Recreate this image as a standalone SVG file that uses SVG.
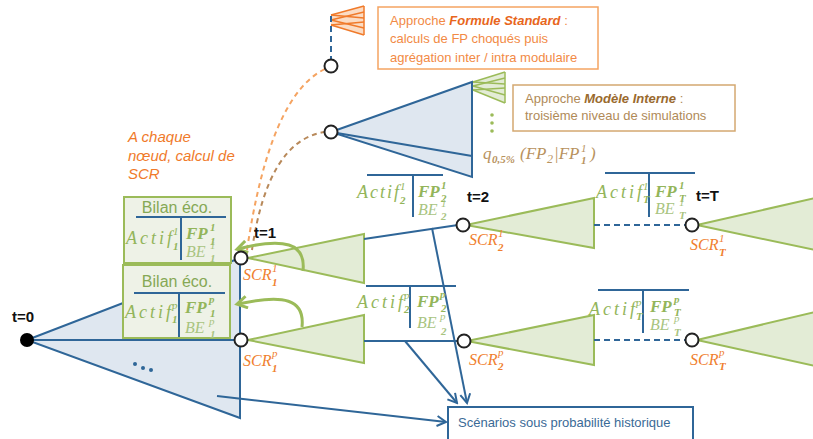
<svg xmlns="http://www.w3.org/2000/svg" width="813" height="439" viewBox="0 0 813 439">
<style>
.ln{stroke:#2f6698;stroke-width:2;fill:none}
.dash{stroke:#2f6698;stroke-width:2;fill:none;stroke-dasharray:6 4}
.tri{fill:#e3ecd6;stroke:#9bbb59;stroke-width:2}
.btri{fill:#dfe7f0;stroke:#2f6698;stroke-width:2}
.nd{fill:#fff;stroke:#222;stroke-width:2}
.box{fill:#eef2e7;stroke:#9bbb59;stroke-width:2}
.m{font-family:"Liberation Serif","DejaVu Serif",serif;font-style:italic;fill:#93b55a}
.b{font-weight:bold}
.be{fill:#a9c47f}
.s{font-size:11px}
.scr{fill:#f07f2f}
.q{fill:#b8925e}
.t{font-family:"Liberation Sans",Arial,sans-serif;font-weight:bold;font-size:15px;fill:#111}
.sans{font-family:"Liberation Sans",Arial,sans-serif}
.garr{stroke:#9bbb59;stroke-width:3;fill:none}
</style>
<defs>
<marker id="ah" markerWidth="12" markerHeight="12" refX="10" refY="6" orient="auto" markerUnits="userSpaceOnUse">
<path d="M1,1 L10,6 L1,11" fill="none" stroke="#2f6698" stroke-width="2"/>
</marker>
<marker id="gh" markerWidth="14" markerHeight="14" refX="10" refY="7" orient="auto" markerUnits="userSpaceOnUse">
<path d="M1,1 L11,7 L1,13" fill="none" stroke="#9bbb59" stroke-width="3"/>
</marker>
</defs>

<!-- big tree at t=0 -->
<g id="tree0">
<polygon class="btri" points="27,340 240,258 240,418"/>
<line class="ln" x1="27" y1="340" x2="240" y2="340"/>
<circle cx="135" cy="364" r="2" fill="#2f6698"/>
<circle cx="143" cy="368" r="2" fill="#2f6698"/>
<circle cx="151" cy="370" r="2" fill="#2f6698"/>
</g>

<!-- upper blue fan (internal model) -->
<g id="fanMI">
<polygon class="btri" points="331,132 472,82 472,177"/>
<line class="ln" x1="331" y1="132" x2="472" y2="156"/>
<polygon points="473,82 505,72 505,103 473,90" fill="#e3ecd6"/>
<g stroke="#9bbb59" stroke-width="1.5" fill="none">
<line x1="473" y1="82" x2="505" y2="72"/>
<line x1="473" y1="82" x2="505" y2="84"/>
<line x1="473" y1="86" x2="505" y2="78"/>
<line x1="473" y1="86" x2="505" y2="95"/>
<line x1="473" y1="90" x2="505" y2="88"/>
<line x1="473" y1="90" x2="505" y2="103"/>
<line x1="505" y1="72" x2="505" y2="103"/>
</g>
<circle cx="492" cy="115" r="1.8" fill="#9bbb59"/>
<circle cx="492" cy="123" r="1.8" fill="#9bbb59"/>
<circle cx="492" cy="131" r="1.8" fill="#9bbb59"/>
</g>

<!-- orange fan (standard formula) -->
<g id="fanFS">
<polygon points="331,15 364,6 364,35 331,25" fill="#fbdcc4"/>
<g stroke="#f07a2a" stroke-width="1.5" fill="none">
<line x1="331" y1="15" x2="364" y2="6"/>
<line x1="331" y1="15" x2="364" y2="18"/>
<line x1="331" y1="20" x2="364" y2="12"/>
<line x1="331" y1="20" x2="364" y2="28"/>
<line x1="331" y1="25" x2="364" y2="22"/>
<line x1="331" y1="25" x2="364" y2="35"/>
<line x1="364" y1="6" x2="364" y2="35"/>
</g>
</g>

<!-- green triangles -->
<g id="tri11"><polygon class="tri" points="248,258 364,234 364,283"/></g>
<g id="tri1p"><polygon class="tri" points="248,340 364,315 364,363"/></g>
<g id="tri21"><polygon class="tri" points="466,225 594,198 594,248"/></g>
<g id="tri2p"><polygon class="tri" points="467,341 594,315 594,365"/></g>
<g id="triT1"><polygon class="tri" points="697,225 815,198 815,250"/></g>
<g id="triTp"><polygon class="tri" points="697,340 815,312 815,366"/></g>

<!-- connectors -->
<g id="connectors">
<line class="ln" x1="240" y1="258" x2="240" y2="418"/>
<line class="ln" x1="364" y1="239" x2="458" y2="225"/>
<line class="ln" x1="364" y1="341" x2="458" y2="341"/>
<line class="dash" x1="594" y1="225" x2="686" y2="225"/>
<line class="dash" x1="594" y1="340" x2="686" y2="340"/>
<line class="dash" x1="331" y1="16" x2="331" y2="59"/>
<line class="ln" x1="432" y1="228" x2="467" y2="403" marker-end="url(#ah)"/>
<line class="ln" x1="405" y1="341" x2="457" y2="403" marker-end="url(#ah)"/>
<line class="ln" x1="217" y1="396" x2="446" y2="422" marker-end="url(#ah)"/>
<path d="M247,250 Q270,95 325,69" stroke="#f5a462" stroke-width="2" fill="none" stroke-dasharray="5 4"/>
<path d="M252,250 Q268,140 325,132" stroke="#b8895a" stroke-width="2" fill="none" stroke-dasharray="5 4"/>
<path class="garr" d="M303,271 C306,243 284,237 238,249" marker-end="url(#gh)"/>
<path class="garr" d="M302,327 C305,299 284,294 238,304" marker-end="url(#gh)"/>
</g>

<!-- balance sheets at t=1 -->
<g id="bilan11">
<rect class="box" x="124" y="197" width="107" height="66"/>
<text class="sans" x="177" y="213" font-size="16" fill="#86a855" text-anchor="middle">Bilan éco.</text>
<line class="ln" x1="136" y1="217" x2="226" y2="217"/>
<line class="ln" x1="181" y1="217" x2="181" y2="260"/>
<text class="m" x="126" y="244" font-size="18" textLength="46" lengthAdjust="spacing">Actif</text>
<text class="m s" x="173" y="235">1</text>
<text class="m s b" x="173" y="250">1</text>
<text class="m b" x="186" y="239" font-size="17">FP</text>
<text class="m s b" x="210" y="231">1</text>
<text class="m s b" x="210" y="245">1</text>
<text class="m be" x="186" y="257" font-size="16">BE</text>
<text class="m s be" x="210" y="249">1</text>
<text class="m s be b" x="210" y="262">1</text>
</g>
<g id="bilan1p">
<rect class="box" x="123" y="265" width="107" height="73"/>
<text class="sans" x="177" y="287" font-size="16" fill="#86a855" text-anchor="middle">Bilan éco.</text>
<line class="ln" x1="134" y1="293" x2="225" y2="293"/>
<line class="ln" x1="179" y1="293" x2="179" y2="337"/>
<text class="m" x="125" y="318" font-size="18" textLength="46" lengthAdjust="spacing">Actif</text>
<text class="m s" x="172" y="309">p</text>
<text class="m s b" x="172" y="323">1</text>
<text class="m b" x="185" y="313" font-size="17">FP</text>
<text class="m s b" x="209" y="303">p</text>
<text class="m s b" x="210" y="317">1</text>
<text class="m be" x="185" y="333" font-size="16">BE</text>
<text class="m s be" x="209" y="325">p</text>
<text class="m s be b" x="210" y="338">1</text>
</g>

<!-- balance sheets at t=2 -->
<g id="bilan21">
<line class="ln" x1="367" y1="175" x2="443" y2="175"/>
<line class="ln" x1="413" y1="175" x2="413" y2="217"/>
<text class="m" x="357" y="198" font-size="18" textLength="42" lengthAdjust="spacing">Actif</text>
<text class="m s" x="400" y="190">1</text>
<text class="m s b" x="400" y="204">2</text>
<text class="m b" x="418" y="197" font-size="17">FP</text>
<text class="m s b" x="441" y="189">1</text>
<text class="m s b" x="441" y="202">2</text>
<text class="m be" x="418" y="215" font-size="16">BE</text>
<text class="m s be" x="441" y="207">1</text>
<text class="m s be b" x="441" y="220">2</text>
</g>
<g id="bilan2p">
<line class="ln" x1="366" y1="286" x2="456" y2="286"/>
<line class="ln" x1="410" y1="286" x2="410" y2="328"/>
<text class="m" x="357" y="308" font-size="18" textLength="46" lengthAdjust="spacing">Actif</text>
<text class="m s" x="404" y="299">p</text>
<text class="m s b" x="404" y="313">2</text>
<text class="m b" x="417" y="307" font-size="17">FP</text>
<text class="m s b" x="440" y="298">p</text>
<text class="m s b" x="441" y="312">2</text>
<text class="m be" x="417" y="328" font-size="16">BE</text>
<text class="m s be" x="440" y="320">p</text>
<text class="m s be b" x="441" y="335">2</text>
</g>

<!-- balance sheets at t=T -->
<g id="bilanT1">
<line class="ln" x1="605" y1="173" x2="695" y2="173"/>
<line class="ln" x1="649" y1="173" x2="649" y2="217"/>
<text class="m" x="596" y="198" font-size="18" textLength="46" lengthAdjust="spacing">Actif</text>
<text class="m s" x="643" y="190">1</text>
<text class="m s b" x="643" y="203">T</text>
<text class="m b" x="655" y="197" font-size="17">FP</text>
<text class="m s b" x="679" y="189">1</text>
<text class="m s b" x="679" y="202">T</text>
<text class="m be" x="655" y="214" font-size="16">BE</text>
<text class="m s be" x="679" y="206">1</text>
<text class="m s be b" x="679" y="219">T</text>
</g>
<g id="bilanTp">
<line class="ln" x1="598" y1="290" x2="689" y2="290"/>
<line class="ln" x1="643" y1="290" x2="643" y2="333"/>
<text class="m" x="589" y="315" font-size="18" textLength="46" lengthAdjust="spacing">Actif</text>
<text class="m s" x="636" y="306">p</text>
<text class="m s b" x="636" y="320">T</text>
<text class="m b" x="650" y="312" font-size="17">FP</text>
<text class="m s b" x="674" y="303">p</text>
<text class="m s b" x="674" y="316">T</text>
<text class="m be" x="650" y="330" font-size="16">BE</text>
<text class="m s be" x="674" y="322">p</text>
<text class="m s be b" x="674" y="336">T</text>
</g>

<!-- nodes -->
<g id="n0"><circle cx="27" cy="340" r="7" fill="#000"/><text class="t" x="12" y="322">t=0</text></g>
<g id="n11">
<circle class="nd" cx="241" cy="258" r="6.5"/>
<text class="t" x="254" y="238">t=1</text>
<text class="m scr" x="243" y="280" font-size="16">SCR</text>
<text class="m scr s" x="272" y="272">1</text>
<text class="m scr s b" x="272" y="286">1</text>
</g>
<g id="n1p">
<circle class="nd" cx="241" cy="340" r="6.5"/>
<text class="m scr" x="243" y="366" font-size="16">SCR</text>
<text class="m scr s" x="272" y="357">p</text>
<text class="m scr s b" x="272" y="372">1</text>
</g>
<g id="n21">
<circle class="nd" cx="463" cy="225" r="6.5"/>
<text class="t" x="467" y="202">t=2</text>
<text class="m scr" x="469" y="245" font-size="16">SCR</text>
<text class="m scr s" x="498" y="237">1</text>
<text class="m scr s b" x="498" y="251">2</text>
</g>
<g id="n2p">
<circle class="nd" cx="464" cy="341" r="6.5"/>
<text class="m scr" x="469" y="365" font-size="16">SCR</text>
<text class="m scr s" x="498" y="356">p</text>
<text class="m scr s b" x="498" y="370">2</text>
</g>
<g id="nT1">
<circle class="nd" cx="692" cy="225" r="6.5"/>
<text class="t" x="696" y="201">t=T</text>
<text class="m scr" x="690" y="250" font-size="16">SCR</text>
<text class="m scr s" x="719" y="242">1</text>
<text class="m scr s b" x="719" y="256">T</text>
</g>
<g id="nTp">
<circle class="nd" cx="692" cy="340" r="6.5"/>
<text class="m scr" x="690" y="365" font-size="16">SCR</text>
<text class="m scr s" x="719" y="356">p</text>
<text class="m scr s b" x="719" y="370">T</text>
</g>
<g id="nMI"><circle class="nd" cx="331" cy="132" r="6.5"/></g>
<g id="nFS"><circle class="nd" cx="331" cy="66" r="6.5"/></g>

<!-- notes -->
<g id="noteSCR">
<text class="sans" font-size="15" font-style="italic" fill="#f07a2a"><tspan x="128" y="142">A chaque</tspan><tspan x="128" y="161">nœud, calcul de</tspan><tspan x="128" y="179">SCR</tspan></text>
</g>
<g id="noteFS">
<rect x="378" y="7" width="220" height="62" fill="#fff" stroke="#f5a462" stroke-width="1.5"/>
<text class="sans" font-size="13" fill="#f28a45"><tspan x="390" y="25">Approche <tspan font-weight="bold" font-style="italic" fill="#e8661c">Formule Standard</tspan> :</tspan><tspan x="390" y="43">calculs de FP choqués puis</tspan><tspan x="390" y="62">agrégation inter / intra modulaire</tspan></text>
</g>
<g id="noteMI">
<rect x="513" y="85" width="222" height="46" fill="#fff" stroke="#d4a870" stroke-width="1.5"/>
<text class="sans" font-size="13" fill="#b08a58"><tspan x="525" y="103">Approche <tspan font-weight="bold" font-style="italic" fill="#9a6a2e">Modèle Interne</tspan> :</tspan><tspan x="525" y="120">troisième niveau de simulations</tspan></text>
</g>
<g id="quantile">
<text class="m q" x="483" y="159" font-size="17">q</text>
<text class="m q b" x="492" y="163" font-size="11">0,5%</text>
<text class="m q" x="520" y="159" font-size="17">(FP</text>
<text class="m q" x="547" y="163" font-size="12">2</text>
<text class="m q" x="554" y="159" font-size="17">|FP</text>
<text class="m q" x="581" y="152" font-size="11">1</text>
<text class="m q b" x="581" y="164" font-size="11">1</text>
<text class="m q" x="590" y="159" font-size="17">)</text>
</g>
<g id="scenarios">
<rect x="448" y="407" width="245" height="40" fill="#fff" stroke="#2f6698" stroke-width="2"/>
<text class="sans" x="458" y="427" font-size="13" fill="#3a6a96">Scénarios sous probabilité historique</text>
</g>
</svg>
